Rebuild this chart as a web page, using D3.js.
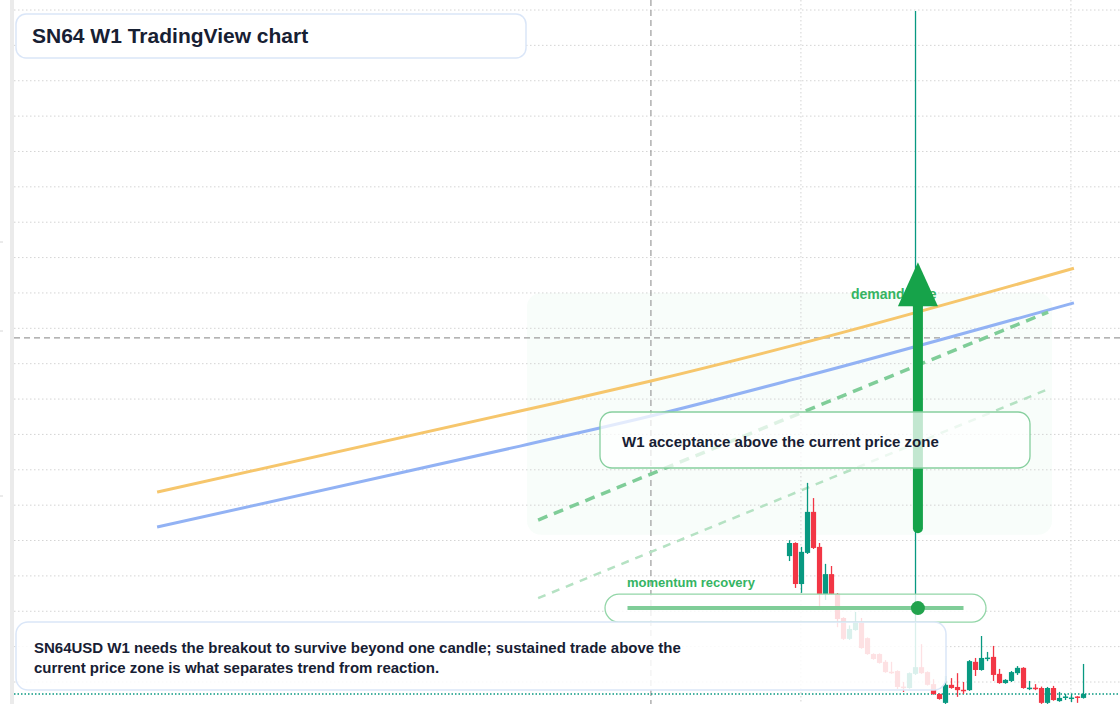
<!DOCTYPE html>
<meta charset="utf-8">
<style>
  body { margin: 0; background: #fff; }
  svg { display: block; font-family: "Liberation Sans", Arial, sans-serif; }
</style>
<svg width="1120" height="704"></svg>
<script src="https://d3js.org/d3.v7.min.js"></script>
<script>

// weekly candles, index 0 = first visible bar
var opens  = [4.56,4.93,3.77,4.65,5.81,4.82,3.49,4.05,3.49,2.81,2.22,2.47,2.70,2.24,1.79,1.79,1.57,1.29,1.31,0.87,
              0.83,1.23,1.42,1.28,0.94,0.66,0.41,0.92,0.86,0.78,0.77,1.57,1.34,1.67,1.71,1.23,0.97,1.03,1.25,1.40,
              0.82,0.84,0.83,0.41,0.83,0.46,0.57,0.54,0.59,0.55];
var highs  = [5.01,4.95,4.82,6.63,6.20,4.93,4.34,4.28,3.51,2.83,2.60,2.98,2.81,2.26,1.81,1.81,1.62,1.57,1.33,1.00,
              1.27,19.97,2.07,1.30,1.08,0.68,1.17,1.11,1.25,1.00,1.62,1.68,2.30,1.85,2.02,1.37,1.08,1.31,1.45,1.42,
              1.03,0.94,0.87,0.86,0.89,0.72,0.66,0.66,0.60,1.51];
var lows   = [4.42,3.66,3.52,4.62,4.76,3.15,3.32,3.47,2.55,2.19,2.19,2.45,1.94,1.77,1.63,1.52,1.26,1.23,0.80,0.72,
              0.81,1.20,1.23,0.90,0.64,0.50,0.38,0.81,0.58,0.66,0.75,1.17,1.32,1.59,1.03,0.95,0.95,1.00,1.20,0.81,
              0.77,0.77,0.38,0.38,0.47,0.44,0.49,0.43,0.41,0.53];
var closes = [4.93,3.77,4.68,5.81,4.79,3.49,4.05,3.49,2.78,2.22,2.50,2.70,1.96,1.79,1.65,1.54,1.28,1.27,0.86,0.85,
              1.25,1.42,1.25,0.92,0.66,0.52,0.92,0.83,0.77,0.76,1.59,1.34,1.68,1.69,1.20,0.97,1.06,1.28,1.40,0.83,
              0.84,0.82,0.41,0.83,0.49,0.55,0.59,0.56,0.57,0.66];

var priceTicks = d3.range(1, 21);      // horizontal grid
var timeTicks = [1.9, 46.9];            // vertical grid
var crossIdx = -23.1, crossPrice = 10.73;
var lastPrice = 0.66;

// trend curves: [bar index, price]
var upperBand = [[-105.4, 6.37], [-44.9, 8.66], [-23.1, 9.51], [2.1, 10.58], [47.4, 12.70]];
var lowerBand = [[-105.4, 5.38], [-44.9, 7.67], [-23.1, 8.52], [2.1, 9.62], [47.4, 11.72]];
var channelTop = [[-41.9, 5.58], [43.1, 11.46]];
var channelBottom = [[-41.9, 3.37], [43.1, 9.28]];
var zone = {from: -43.75, to: 43.75, low: 5.16, high: 12.0};
var arrow = {idx: 21.4, from: 5.35, to: 12.87};
var momentum = {from: -27, to: 29, price: 3.09, dot: 21.4};

var svg = d3.select("svg"),
    width = +svg.attr("width"),
    height = +svg.attr("height");

var x = d3.scaleLinear().domain([-129.25, 55.08]).range([14, width]);
var y = d3.scaleLinear().domain([1, 20]).range([682, 10]);

var green = "#089981", red = "#f23645", ink = "#172033";

// left price-scale strip
svg.append("rect").attr("x", 10).attr("y", 0).attr("width", 4).attr("height", height).attr("fill", "#ebebeb");
svg.selectAll(".ltick").data([242, 331, 496]).enter().append("line")
    .attr("x1", 0).attr("x2", 3).attr("y1", function(d) { return d; }).attr("y2", function(d) { return d; })
    .attr("stroke", "#d6d6d6");

// demand zone
svg.append("rect")
    .attr("x", x(zone.from)).attr("y", y(zone.high))
    .attr("width", x(zone.to) - x(zone.from)).attr("height", y(zone.low) - y(zone.high))
    .attr("rx", 14)
    .attr("fill", "#22c55e").attr("fill-opacity", 0.03);

// grid
svg.append("g").selectAll("line").data(priceTicks).enter().append("line")
    .attr("x1", 14).attr("x2", width)
    .attr("y1", function(d) { return y(d); }).attr("y2", function(d) { return y(d); })
    .attr("stroke", "#d4d4d4").attr("stroke-dasharray", "1.5,2.5");
svg.append("g").selectAll("line").data(timeTicks).enter().append("line")
    .attr("x1", function(d) { return x(d); }).attr("x2", function(d) { return x(d); })
    .attr("y1", 0).attr("y2", height)
    .attr("stroke", "#d4d4d4").attr("stroke-dasharray", "1.5,2.5");

// crosshair
svg.append("line").attr("x1", x(crossIdx)).attr("x2", x(crossIdx)).attr("y1", 0).attr("y2", height)
    .attr("stroke", "#9c9c9c").attr("stroke-width", 1.2).attr("stroke-dasharray", "6,4");
svg.append("line").attr("x1", 14).attr("x2", width).attr("y1", y(crossPrice)).attr("y2", y(crossPrice))
    .attr("stroke", "#9c9c9c").attr("stroke-width", 1.2).attr("stroke-dasharray", "6,4");

// last price line
svg.append("line").attr("x1", 14).attr("x2", width).attr("y1", y(lastPrice)).attr("y2", y(lastPrice))
    .attr("stroke", green).attr("stroke-width", 1.5).attr("stroke-dasharray", "1.5,2");

var line = d3.line()
    .x(function(d) { return x(d[0]); })
    .y(function(d) { return y(d[1]); })
    .curve(d3.curveMonotoneX);

svg.append("path").datum(upperBand).attr("d", line)
    .attr("fill", "none").attr("stroke", "#f6c66c").attr("stroke-width", 3);
svg.append("path").datum(lowerBand).attr("d", line)
    .attr("fill", "none").attr("stroke", "#92b2f4").attr("stroke-width", 3);
svg.append("path").datum(channelTop).attr("d", line)
    .attr("fill", "none").attr("stroke", "#7fcd98").attr("stroke-width", 3.5).attr("stroke-dasharray", "10,7");
svg.append("path").datum(channelBottom).attr("d", line)
    .attr("fill", "none").attr("stroke", "#b5e2c3").attr("stroke-width", 2.5).attr("stroke-dasharray", "8,7");

// candles
var candles = opens.map(function(o, i) {
  return {i: i, o: o, h: highs[i], l: lows[i], c: closes[i]};
});
var cg = svg.append("g").selectAll("g").data(candles).enter().append("g");
cg.append("line")
    .attr("x1", function(d) { return x(d.i); }).attr("x2", function(d) { return x(d.i); })
    .attr("y1", function(d) { return y(d.h); }).attr("y2", function(d) { return y(d.l); })
    .attr("stroke", function(d) { return d.c >= d.o ? green : red; })
    .attr("stroke-width", 1.3);
cg.append("rect")
    .attr("x", function(d) { return x(d.i) - 2.6; })
    .attr("width", 5.2)
    .attr("y", function(d) { return y(Math.max(d.o, d.c)); })
    .attr("height", function(d) { return Math.max(1.5, Math.abs(y(d.o) - y(d.c))); })
    .attr("fill", function(d) { return d.c >= d.o ? green : red; });

// demand side label + arrow
svg.append("text").attr("x", 851).attr("y", y(12.0) + 6)
    .attr("font-size", 14).attr("font-weight", "bold").attr("fill", "#35b463")
    .text("demand side");
var ax = x(arrow.idx), headBase = y(arrow.to) + 44;
svg.append("line").attr("x1", ax).attr("x2", ax).attr("y1", y(arrow.from)).attr("y2", headBase)
    .attr("stroke", "#16a34a").attr("stroke-width", 10).attr("stroke-linecap", "round");
svg.append("path")
    .attr("d", "M" + ax + "," + y(arrow.to) + "L" + (ax + 20) + "," + headBase + "L" + (ax - 20) + "," + headBase + "Z")
    .attr("fill", "#16a34a");

// callout
svg.append("rect").attr("x", 600).attr("y", 412).attr("width", 430).attr("height", 56).attr("rx", 12)
    .attr("fill", "#fff").attr("fill-opacity", 0.74)
    .attr("stroke", "#86cf9e").attr("stroke-width", 1.3);
svg.append("text").attr("x", 622).attr("y", 447)
    .attr("font-size", 15).attr("font-weight", "bold").attr("fill", ink)
    .text("W1 acceptance above the current price zone");

// momentum pill
var my = y(momentum.price);
svg.append("rect").attr("x", 605).attr("y", my - 14).attr("width", 381).attr("height", 28).attr("rx", 14)
    .attr("fill", "#fff").attr("fill-opacity", 0.82)
    .attr("stroke", "#93d6a8").attr("stroke-width", 1.3);
svg.append("line").attr("x1", x(momentum.from)).attr("x2", x(momentum.to)).attr("y1", my).attr("y2", my)
    .attr("stroke", "#7fcd98").attr("stroke-width", 4);
svg.append("circle").attr("cx", x(momentum.dot)).attr("cy", my).attr("r", 7).attr("fill", "#22a34d");
svg.append("text").attr("x", 627).attr("y", 587)
    .attr("font-size", 13).attr("font-weight", "bold").attr("fill", "#35b463")
    .text("momentum recovery");

// note box
svg.append("rect").attr("x", 16).attr("y", 622).attr("width", 930).attr("height", 68).attr("rx", 12)
    .attr("fill", "#fff").attr("fill-opacity", 0.85)
    .attr("stroke", "#dae6f8").attr("stroke-width", 1.5);
svg.append("text").attr("x", 34).attr("y", 653)
    .attr("font-size", 15).attr("font-weight", "bold").attr("fill", ink)
    .text("SN64USD W1 needs the breakout to survive beyond one candle; sustained trade above the");
svg.append("text").attr("x", 34).attr("y", 673)
    .attr("font-size", 15).attr("font-weight", "bold").attr("fill", ink)
    .text("current price zone is what separates trend from reaction.");

// title
svg.append("rect").attr("x", 16).attr("y", 14).attr("width", 510).attr("height", 44).attr("rx", 10)
    .attr("fill", "#fff")
    .attr("stroke", "#dae6f8").attr("stroke-width", 1.5);
svg.append("text").attr("x", 32).attr("y", 43)
    .attr("font-size", 21).attr("font-weight", "bold").attr("fill", ink)
    .text("SN64 W1 TradingView chart");

</script>
